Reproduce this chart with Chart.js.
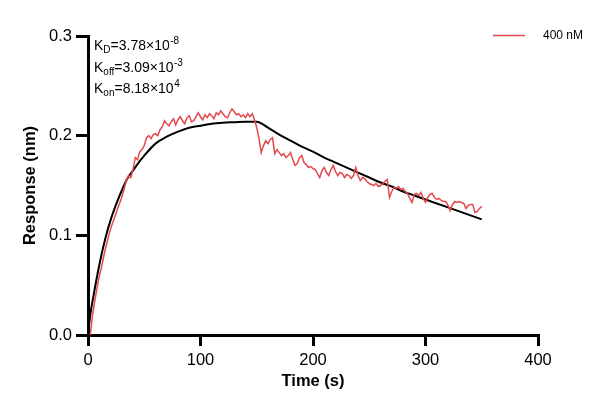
<!DOCTYPE html>
<html>
<head>
<meta charset="utf-8">
<script src="https://cdn.jsdelivr.net/npm/chart.js@4/dist/chart.umd.min.js"></script>
<style>
  html, body { margin: 0; padding: 0; background: #fff; }
  #wrap { width: 606px; height: 412px; }
</style>
</head>
<body>
<div id="wrap"><canvas id="kinChart"></canvas></div>
<script>
var redTimes = [
  0, 2, 4, 6, 8, 10, 12, 14, 16, 18, 20, 22, 24, 26, 28, 30, 32, 34, 36, 38,
  40, 42, 44, 46, 48, 50, 52, 54, 56, 58, 60, 62, 64, 66, 68, 70, 72, 74, 76, 78,
  80, 82, 84, 86, 88, 90, 92, 94, 96, 98, 100, 102, 104, 106, 108, 110, 112, 114, 116, 118,
  120, 122, 124, 126, 128, 130, 132, 134, 136, 138, 140, 142, 144, 146, 148, 150, 152, 154, 156, 158,
  160, 162, 164, 166, 168, 170, 172, 174, 176, 178, 180, 182, 184, 186, 188, 190, 192, 194, 196, 198,
  200, 202, 204, 206, 208, 210, 212, 214, 216, 218, 220, 222, 224, 226, 228, 230, 232, 234, 236, 238,
  240, 242, 244, 246, 248, 250, 252, 254, 256, 258, 260, 262, 264, 266, 268, 270, 272, 274, 276, 278,
  280, 282, 284, 286, 288, 290, 292, 294, 296, 298, 300, 302, 304, 306, 308, 310, 312, 314, 316, 318,
  320, 322, 324, 326, 328, 330, 332, 334, 336, 338, 340, 342, 344, 346, 348, 350
];
var redValues = [
  -0.001, 0.000, 0.020, 0.034, 0.047, 0.059, 0.068, 0.079, 0.089, 0.098, 0.106, 0.113, 0.119, 0.126, 0.132, 0.138, 0.146, 0.155, 0.160, 0.158,
  0.166, 0.178, 0.176, 0.184, 0.186, 0.190, 0.198, 0.200, 0.197, 0.201, 0.202, 0.200, 0.206, 0.209, 0.215, 0.212, 0.210, 0.214, 0.217, 0.211,
  0.216, 0.219, 0.215, 0.212, 0.218, 0.220, 0.214, 0.215, 0.219, 0.223, 0.219, 0.216, 0.221, 0.218, 0.222, 0.220, 0.217, 0.223, 0.221, 0.225,
  0.222, 0.219, 0.218, 0.223, 0.227, 0.224, 0.221, 0.222, 0.219, 0.221, 0.218, 0.222, 0.219, 0.222, 0.216, 0.208, 0.197, 0.183, 0.190, 0.195,
  0.192, 0.196, 0.198, 0.182, 0.186, 0.183, 0.180, 0.182, 0.178, 0.180, 0.183, 0.176, 0.170, 0.172, 0.178, 0.180, 0.173, 0.171, 0.168, 0.169,
  0.167, 0.166, 0.162, 0.158, 0.165, 0.168, 0.163, 0.160, 0.166, 0.170, 0.164, 0.160, 0.163, 0.162, 0.158, 0.161, 0.160, 0.157, 0.160, 0.168,
  0.160, 0.155, 0.158, 0.157, 0.154, 0.152, 0.151, 0.150, 0.152, 0.149, 0.150, 0.152, 0.154, 0.156, 0.138, 0.144, 0.148, 0.147, 0.149, 0.146,
  0.147, 0.144, 0.142, 0.137, 0.133, 0.141, 0.142, 0.140, 0.143, 0.137, 0.133, 0.138, 0.141, 0.142, 0.138, 0.136, 0.137, 0.135, 0.134, 0.134,
  0.130, 0.125, 0.131, 0.134, 0.133, 0.134, 0.133, 0.132, 0.127, 0.130, 0.131, 0.131, 0.123, 0.124, 0.127, 0.129
];

// fitted curve (black)
var fitTimes = [
  0, 2, 5, 10, 15, 20, 25, 30, 35, 40, 45, 50, 60, 70, 80, 90, 100, 110, 120, 130, 140, 150,
  160, 170, 180, 190, 200, 210, 220, 230, 240, 250, 260, 270, 280, 290, 300, 310, 320, 330, 340, 350
];
var fitValues = [
  0.000, 0.020, 0.040, 0.070, 0.095, 0.115, 0.131, 0.145, 0.157, 0.165, 0.173, 0.180, 0.192, 0.199, 0.204, 0.208, 0.210, 0.212, 0.213, 0.2135, 0.214, 0.214,
  0.208, 0.201, 0.195, 0.189, 0.184, 0.178, 0.173, 0.168, 0.163, 0.158, 0.153, 0.149, 0.144, 0.140, 0.136, 0.132, 0.128, 0.124, 0.120, 0.116
];

var xTicks = [0, 100, 200, 300, 400];
var yTicks = [0, 0.1, 0.2, 0.3];
var seriesLabel = '400 nM';
var kinetics = [
  { main: 'K', sub: 'D', val: '=3.78\u00d710', exp: '-8' },
  { main: 'K', sub: 'off', val: '=3.09\u00d710', exp: '-3' },
  { main: 'K', sub: 'on', val: '=8.18\u00d710', exp: '4' }
];

var RED = '#e5484d';
var FONT = "'Liberation Sans', Arial, sans-serif";

function pairs(xs, ys) {
    return xs.map(function(x, i) { return { x: x, y: ys[i] }; });
}

// draws the K values and the small legend top right
var annotations = {
    id: 'annotations',
    afterDraw: function(chart) {
        var ctx = chart.ctx;
        ctx.save();
        ctx.fillStyle = '#000';
        ctx.textBaseline = 'alphabetic';
        var y = 50;
        kinetics.forEach(function(k) {
            var x = 94;
            ctx.font = '14px ' + FONT;
            ctx.fillText(k.main, x, y);
            x += ctx.measureText(k.main).width;
            ctx.font = '10px ' + FONT;
            ctx.fillText(k.sub, x, y + 3);
            x += ctx.measureText(k.sub).width;
            ctx.font = '14px ' + FONT;
            ctx.fillText(k.val, x, y);
            x += ctx.measureText(k.val).width;
            ctx.font = '10px ' + FONT;
            ctx.fillText(k.exp, x + 0.5, y - 6);
            y += 21.5;
        });
        // legend
        ctx.strokeStyle = RED;
        ctx.lineWidth = 1.5;
        ctx.beginPath();
        ctx.moveTo(493, 35.5);
        ctx.lineTo(525, 35.5);
        ctx.stroke();
        ctx.font = '12px ' + FONT;
        ctx.textBaseline = 'middle';
        ctx.fillText(seriesLabel, 543, 36);
        ctx.restore();
    }
};

var kinChart = new Chart(document.getElementById('kinChart'), {
    type: 'line',
    data: {
        datasets: [{
            label: seriesLabel,
            data: pairs(redTimes, redValues),
            borderColor: RED,
            borderWidth: 1.5,
            pointRadius: 0,
            tension: 0
        }, {
            label: 'fit',
            data: pairs(fitTimes, fitValues),
            borderColor: '#000',
            borderWidth: 2,
            pointRadius: 0,
            cubicInterpolationMode: 'monotone'
        }]
    },
    options: {
        responsive: true,
        maintainAspectRatio: false,
        animation: false,
        layout: {
            padding: { left: 0, top: 36, right: 68, bottom: 0 }
        },
        plugins: {
            legend: { display: false },
            tooltip: { enabled: false }
        },
        scales: {
            x: {
                type: 'linear',
                min: 0,
                max: 400,
                afterBuildTicks: function(scale) {
                    scale.ticks = xTicks.map(function(v) { return { value: v }; });
                },
                afterFit: function(scale) { scale.height = 77; },
                grid: { drawOnChartArea: false, drawTicks: true, tickLength: 11, lineWidth: 3, color: '#000' },
                border: { display: true, width: 3, color: '#000' },
                ticks: {
                    color: '#000',
                    padding: 5,
                    maxRotation: 0,
                    font: { family: FONT, size: 16.5 }
                },
                title: {
                    display: true,
                    text: 'Time (s)',
                    color: '#000',
                    padding: { top: 0, bottom: 21 },
                    font: { family: FONT, size: 16.5, weight: 'bold' }
                }
            },
            y: {
                min: 0,
                max: 0.3,
                afterBuildTicks: function(scale) {
                    scale.ticks = yTicks.map(function(v) { return { value: v }; });
                },
                afterFit: function(scale) { scale.width = 88; },
                grid: { drawOnChartArea: false, drawTicks: true, tickLength: 12, lineWidth: 3, color: '#000' },
                border: { display: true, width: 3, color: '#000' },
                ticks: {
                    color: '#000',
                    padding: 4,
                    font: { family: FONT, size: 16.5 },
                    callback: function(v) { return Number(v).toFixed(1); }
                },
                title: {
                    display: true,
                    text: 'Response (nm)',
                    color: '#000',
                    padding: { top: 21, bottom: 0 },
                    font: { family: FONT, size: 16.5, weight: 'bold' }
                }
            }
        }
    },
    plugins: [annotations]
});
</script>
</body>
</html>
